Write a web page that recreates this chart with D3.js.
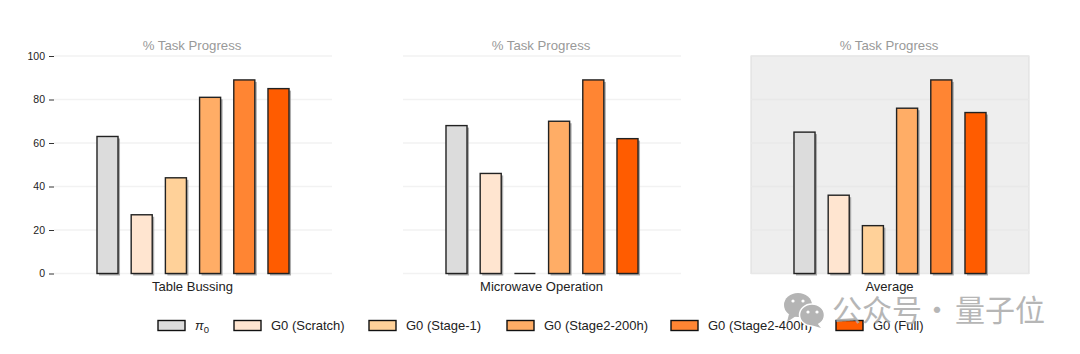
<!DOCTYPE html>
<html>
<head>
<meta charset="utf-8">
<script src="https://cdn.jsdelivr.net/npm/d3@7"></script>
<style>
    html, body { margin: 0; padding: 0; background: #fff; overflow: hidden; }
    text { font-family: "Liberation Sans", Arial, sans-serif; }
</style>
</head>
<body>
<div id="chart"></div>
<script>
// Values
const methods = ["pi0", "G0 (Scratch)", "G0 (Stage-1)", "G0 (Stage2-200h)", "G0 (Stage2-400h)", "G0 (Full)"];
const colors = ["#dcdcdc", "#ffe5d0", "#ffd199", "#ffad66", "#ff8533", "#ff5c00"];
const panelNames = ["Table Bussing", "Microwave Operation", "Average"];
const tableBussing = [63, 27, 44, 81, 89, 85];
const microwaveOperation = [68, 46, 0, 70, 89, 62];
const average = [65, 36, 22, 76, 89, 74];
const yTicks = [0, 20, 40, 60, 80, 100];

const totalWidth = 1080;
const totalHeight = 354;
const panelWidth = 278;
const panelLefts = [54, 403, 751];
const plotTop = 56;
const plotBottom = 273.5;

const svg = d3.select("#chart")
    .append("svg")
    .attr("width", totalWidth)
    .attr("height", totalHeight)
    .style("display", "block");

const xScale = d3.scaleBand()
    .domain(methods)
    .range([0, panelWidth])
    .paddingInner(0.385)
    .paddingOuter(1.257);

const yScale = d3.scaleLinear()
    .domain([0, 100])
    .range([plotBottom, plotTop]);

/**
 * Draws one panel of bars
 * @param {number} left - x position of the panel
 * @param {string} name - label under the panel
 * @param {Array} values - one value per method
 * @param {boolean} shaded - grey background, no y axis
 */
function drawPanel(left, name, values, shaded) {
    const g = svg.append("g").attr("transform", `translate(${left},0)`);

    if (shaded) {
        g.append("rect")
            .attr("x", 0)
            .attr("y", plotTop)
            .attr("width", panelWidth)
            .attr("height", plotBottom - plotTop)
            .style("fill", "#eeeeee")
            .style("stroke", "#dcdcdc")
            .style("stroke-width", 1);
    }

    // Grid lines
    g.selectAll(".grid")
        .data(yTicks)
        .join("line")
        .attr("x1", 0)
        .attr("x2", panelWidth)
        .attr("y1", d => yScale(d))
        .attr("y2", d => yScale(d))
        .style("stroke", shaded ? "#e8e8e8" : "#f2f2f2")
        .style("stroke-width", 1.5);

    // Y axis only on the first panel
    if (left === panelLefts[0]) {
        const axis = g.append("g")
            .call(d3.axisLeft(yScale).tickValues(yTicks).tickSize(5).tickPadding(4));
        axis.select(".domain").remove();
        axis.selectAll(".tick line").style("stroke", "#333").style("stroke-width", 1);
        axis.selectAll(".tick text")
            .style("font-family", "'Liberation Sans', Arial, sans-serif")
            .style("font-size", "10.5px")
            .style("fill", "#222");
    }

    // Title
    g.append("text")
        .attr("x", panelWidth / 2 - 1)
        .attr("y", 49.5)
        .attr("text-anchor", "middle")
        .style("font-size", "13.2px")
        .style("fill", "#999")
        .text("% Task Progress");

    // Shadows, then bars
    g.selectAll(".shadow")
        .data(values)
        .join("rect")
        .attr("x", (d, i) => xScale(methods[i]) + 2)
        .attr("y", d => yScale(d) + 2)
        .attr("width", xScale.bandwidth())
        .attr("height", d => plotBottom - yScale(d))
        .style("fill", "#999")
        .style("opacity", d => d > 0 ? 0.8 : 0);

    g.selectAll(".bar")
        .data(values)
        .join("rect")
        .attr("x", (d, i) => xScale(methods[i]))
        .attr("y", d => yScale(d))
        .attr("width", xScale.bandwidth())
        .attr("height", d => plotBottom - yScale(d))
        .style("fill", (d, i) => colors[i])
        .style("stroke", "#222")
        .style("stroke-width", 1.4);

    // A zero-height rect draws nothing, so zero values get a flat line
    g.selectAll(".zero")
        .data(values)
        .join("line")
        .filter(d => d === 0)
        .attr("x1", (d, i) => xScale(methods[values.indexOf(d)]))
        .attr("x2", (d, i) => xScale(methods[values.indexOf(d)]) + xScale.bandwidth())
        .attr("y1", d => yScale(d))
        .attr("y2", d => yScale(d))
        .style("stroke", "#222")
        .style("stroke-width", 1.4);

    // Panel name
    g.append("text")
        .attr("x", panelWidth / 2 - 0.5)
        .attr("y", 291)
        .attr("text-anchor", "middle")
        .style("font-size", "13px")
        .style("fill", "#222")
        .text(name);
}

drawPanel(panelLefts[0], panelNames[0], tableBussing, false);
drawPanel(panelLefts[1], panelNames[1], microwaveOperation, false);
drawPanel(panelLefts[2], panelNames[2], average, true);

// Legend
const legendX = [158, 234, 369, 507, 671, 836];
const legend = svg.append("g");
methods.forEach((m, i) => {
    legend.append("rect")
        .attr("x", legendX[i])
        .attr("y", 320.5)
        .attr("width", 27)
        .attr("height", 10)
        .style("fill", colors[i])
        .style("stroke", "#111")
        .style("stroke-width", 1.4);

    const label = legend.append("text")
        .attr("x", legendX[i] + 37)
        .attr("y", 330)
        .style("font-size", "13px")
        .style("fill", "#222");
    if (m === "pi0") {
        label.append("tspan").style("font-style", "italic").text("π");
        label.append("tspan").attr("dy", 3).style("font-size", "9.5px").text("0");
    } else {
        label.text(m);
    }
});

// Watermark
const mark = svg.append("g").style("fill", "#b4b4b4");
mark.append("ellipse").attr("cx", 798).attr("cy", 305).attr("rx", 14).attr("ry", 12);
mark.append("path").attr("d", "M789 314 L787 322 L796 316 Z");
mark.append("ellipse").attr("cx", 812).attr("cy", 315).attr("rx", 12.5).attr("ry", 11)
    .style("stroke", "#fff").style("stroke-width", 1.5);
mark.append("path").attr("d", "M817 323 L821 328 L811 325 Z");
mark.selectAll(".eye")
    .data([[793, 301], [803, 301], [808, 312], [817, 312]])
    .join("circle")
    .attr("cx", d => d[0])
    .attr("cy", d => d[1])
    .attr("r", 1.6)
    .style("fill", "#fff");
const markText = svg.append("g")
    .style("font-family", "'Noto Sans CJK SC'")
    .style("font-size", "30px")
    .style("fill", "#aaa")
    .style("opacity", 0.85);
markText.append("text").attr("x", 832).attr("y", 321).style("font-family", "'Noto Sans CJK SC'").text("公众号");
markText.append("text").attr("x", 937).attr("y", 321).attr("text-anchor", "middle").style("font-family", "'Noto Sans CJK SC'").text("·");
markText.append("text").attr("x", 955).attr("y", 321).style("font-family", "'Noto Sans CJK SC'").text("量子位");
</script>
</body>
</html>
